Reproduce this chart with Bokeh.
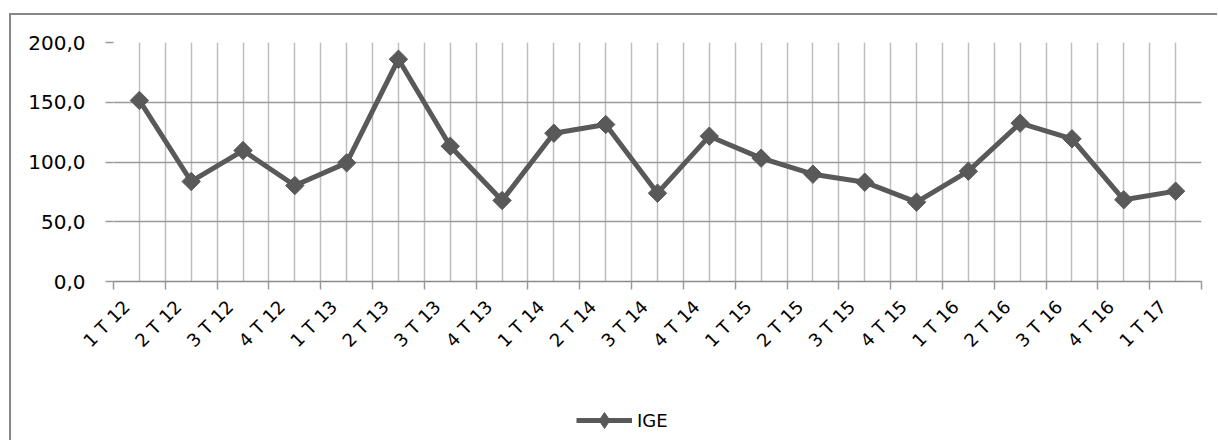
import math
from bokeh.plotting import figure
from bokeh.layouts import column
from bokeh.models import FixedTicker, Legend, LegendItem, ColumnDataSource
from bokeh.embed import file_html
from bokeh.resources import INLINE

categories = ["1 T 12", "2 T 12", "3 T 12", "4 T 12", "1 T 13", "2 T 13", "3 T 13",
              "4 T 13", "1 T 14", "2 T 14", "3 T 14", "4 T 14", "1 T 15", "2 T 15",
              "3 T 15", "4 T 15", "1 T 16", "2 T 16", "3 T 16", "4 T 16", "1 T 17"]
ige = [151.5, 83.7, 109.6, 80.3, 99.3, 186.0, 113.2, 67.8, 124.1, 131.4, 73.9,
       121.6, 103.2, 89.8, 83.1, 66.4, 92.3, 132.5, 119.4, 68.4, 75.6]
y_ticks = [0, 50, 100, 150, 200]
y_tick_labels = ["0,0", "50,0", "100,0", "150,0", "200,0"]
series_name = "IGE"

n = len(categories)
xs = [i + 0.5 for i in range(n)]
src = ColumnDataSource(dict(x=xs, y=ige, cat=categories))

FONT = "DejaVu Sans"
LINE = "#595959"
W = 1206

p = figure(width=W, height=370, x_range=(0, n), y_range=(0, 200),
           output_backend="svg", toolbar_location=None,
           min_border_left=102, min_border_right=16, min_border_top=27,
           min_border_bottom=104)
p.outline_line_color = None
p.background_fill_color = "white"
p.border_fill_color = "white"

# x axis: labels slightly left of the category centre, as in the reference
label_pos = [x - 0.25 for x in xs]
p.xaxis.ticker = FixedTicker(ticks=label_pos, minor_ticks=list(range(n + 1)))
p.xaxis.major_label_overrides = {x: c for x, c in zip(label_pos, categories)}
p.xaxis.major_label_orientation = math.pi / 4
p.xaxis.major_tick_out = 0
p.xaxis.major_tick_in = 0
p.xaxis.minor_tick_out = 8
p.xaxis.minor_tick_in = 0
p.xaxis.minor_tick_line_color = "#9a9a9a"
p.xaxis.minor_tick_line_width = 1.5
p.xaxis.axis_line_color = "#8a8a8a"
p.xaxis.axis_line_width = 1.5
p.xaxis.major_label_text_font = FONT
p.xaxis.major_label_text_font_size = "18px"
p.xaxis.major_label_text_color = "black"
p.xaxis.major_label_standoff = 14

p.xgrid.ticker = FixedTicker(ticks=xs, minor_ticks=list(range(n + 1)))
p.xgrid.grid_line_color = "#bdbdbd"
p.xgrid.grid_line_width = 1.5
p.xgrid.minor_grid_line_color = "#bdbdbd"
p.xgrid.minor_grid_line_width = 1.5

# y axis
p.yaxis.ticker = FixedTicker(ticks=y_ticks, minor_ticks=[])
p.yaxis.major_label_overrides = {t: l for t, l in zip(y_ticks, y_tick_labels)}
p.yaxis.axis_line_color = None
p.yaxis.major_tick_out = 8
p.yaxis.major_tick_in = 0
p.yaxis.major_tick_line_color = "#9a9a9a"
p.yaxis.major_tick_line_width = 1.5
p.yaxis.minor_tick_line_color = None
p.yaxis.major_label_text_font = FONT
p.yaxis.major_label_text_font_size = "20px"
p.yaxis.major_label_text_color = "black"
p.yaxis.major_label_standoff = 20
p.ygrid.grid_line_color = "#9a9a9a"
p.ygrid.grid_line_width = 1.5

p.line("x", "y", source=src, line_color=LINE, line_width=5)
p.scatter("x", "y", source=src, marker="square", angle=math.pi / 4, size=13,
          fill_color=LINE, line_color=LINE)

# legend strip below the chart (its renderers fall outside its own view)
p2 = figure(width=W, height=55, x_range=(-2, -1), y_range=(-2, -1),
            output_backend="svg", toolbar_location=None,
            min_border=0, min_border_left=0, min_border_right=0,
            min_border_top=0, min_border_bottom=0)
p2.axis.visible = False
p2.grid.visible = False
p2.outline_line_color = None
p2.background_fill_color = "white"
p2.border_fill_color = "white"
l2 = p2.line("x", "y", source=src, line_color=LINE, line_width=5)
m2 = p2.scatter("x", "y", source=src, marker="diamond", size=13,
                fill_color=LINE, line_color=LINE)
legend = Legend(items=[LegendItem(label=series_name, renderers=[l2, m2])],
                location=(463, 0), orientation="horizontal",
                border_line_color=None, background_fill_alpha=0,
                padding=0, margin=0, glyph_width=56, glyph_height=40,
                label_standoff=5, label_text_font=FONT,
                label_text_font_size="18px", label_text_color="black")
p2.add_layout(legend, "center")

layout = column(p, p2, spacing=0)
layout.styles = {"border-left": "2px solid #878787", "border-top": "2px solid #878787",
                 "margin-top": "13px", "margin-left": "9px"}

open("out.html", "w").write(file_html(layout, INLINE))
